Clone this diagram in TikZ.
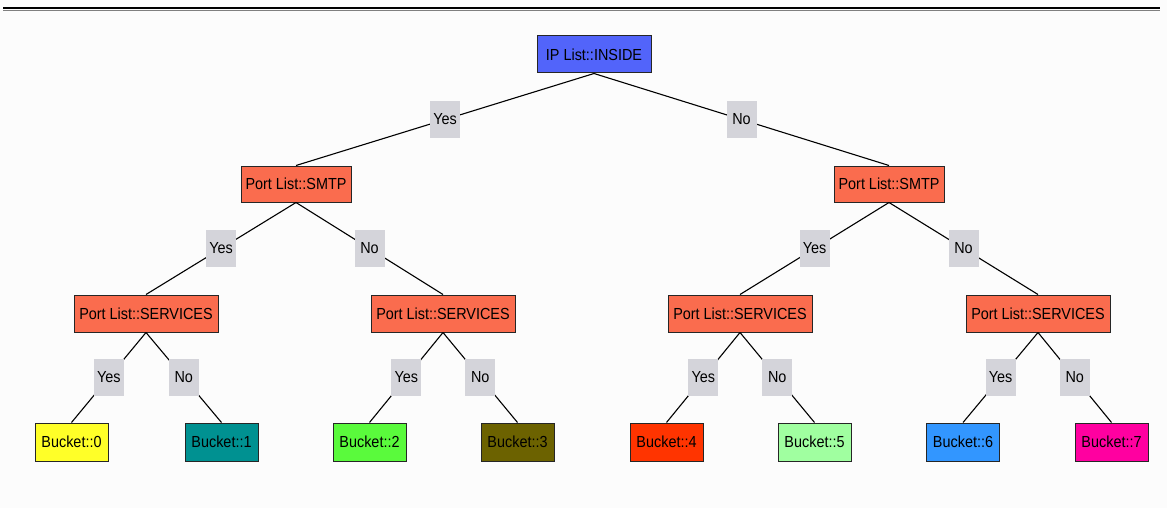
\documentclass[tikz,border=0pt]{standalone}
\usepackage{fontspec}
\setmainfont[FakeStretch=0.9]{Liberation Sans}
\definecolor{rootblue}{RGB}{82,100,250}
\definecolor{coral}{RGB}{250,108,78}
\definecolor{lblgray}{RGB}{212,212,218}
\definecolor{bzero}{RGB}{255,255,40}
\definecolor{bone}{RGB}{0,145,145}
\definecolor{btwo}{RGB}{90,250,60}
\definecolor{bthree}{RGB}{108,98,0}
\definecolor{bfour}{RGB}{255,52,0}
\definecolor{bfive}{RGB}{160,255,160}
\definecolor{bsix}{RGB}{50,150,255}
\definecolor{bseven}{RGB}{255,0,160}
\tikzset{
  tbox/.style={draw=black!85, line width=1pt, inner sep=0pt,
    font=\fontsize{16}{18}\selectfont, text=black},
  rootbox/.style={tbox, fill=rootblue, minimum width=114pt, minimum height=37pt},
  smtpbox/.style={tbox, fill=coral, minimum width=110pt, minimum height=36pt},
  svcbox/.style={tbox, fill=coral, minimum width=144pt, minimum height=37pt},
  bucketbox/.style={tbox, minimum width=73pt, minimum height=38pt},
  answer/.style={fill=lblgray, inner sep=0pt, minimum width=30pt,
    minimum height=37pt, font=\fontsize{16}{18}\selectfont},
  branch/.style={draw=black, line width=1.1pt},
}
\begin{document}
\begin{tikzpicture}[x=1pt, y=-1pt]
  \useasboundingbox (0,0) rectangle (1167,508);
  \fill[white!99!black] (0,0) rectangle (1167,508);
  % header rule
  \coordinate (ruleL) at (3,8.3);
  \coordinate (ruleR) at (1160,8.3);
  \coordinate (ruleL2) at (3,10.4);
  \coordinate (ruleR2) at (1160,10.4);
  \draw[line width=2pt, black] (ruleL) -- (ruleR);
  \draw[line width=1pt, black!50] (ruleL2) -- (ruleR2);

  % decision nodes
  \node[rootbox] (ip) at (594,54.5) {IP List::INSIDE};
  \node[smtpbox] (sL) at (296,184) {Port List::SMTP};
  \node[smtpbox] (sR) at (889,184) {Port List::SMTP};
  \node[svcbox] (v1) at (146,313.5) {Port List::SERVICES};
  \node[svcbox] (v2) at (443,313.5) {Port List::SERVICES};
  \node[svcbox] (v3) at (740,313.5) {Port List::SERVICES};
  \node[svcbox] (v4) at (1038,313.5) {Port List::SERVICES};

  % leaves
  \node[bucketbox, fill=bzero]  (b0) at (71.5,442)  {Bucket::0};
  \node[bucketbox, fill=bone]   (b1) at (221.5,442) {Bucket::1};
  \node[bucketbox, fill=btwo]   (b2) at (369.5,442) {Bucket::2};
  \node[bucketbox, fill=bthree] (b3) at (517.5,442) {Bucket::3};
  \node[bucketbox, fill=bfour]  (b4) at (666.5,442) {Bucket::4};
  \node[bucketbox, fill=bfive]  (b5) at (814.5,442) {Bucket::5};
  \node[bucketbox, fill=bsix]   (b6) at (963,442)   {Bucket::6};
  \node[bucketbox, fill=bseven] (b7) at (1111.5,442) {Bucket::7};

  % branches with their answers
  \draw[branch] (ip.south) -- node[answer] {Yes} (sL.north);
  \draw[branch] (ip.south) -- node[answer] {No} (sR.north);
  \draw[branch] (sL.south) -- node[answer] {Yes} (v1.north);
  \draw[branch] (sL.south) -- node[answer] {No} (v2.north);
  \draw[branch] (sR.south) -- node[answer] {Yes} (v3.north);
  \draw[branch] (sR.south) -- node[answer] {No} (v4.north);
  \draw[branch] (v1.south) -- node[answer] {Yes} (b0.north);
  \draw[branch] (v1.south) -- node[answer] {No} (b1.north);
  \draw[branch] (v2.south) -- node[answer] {Yes} (b2.north);
  \draw[branch] (v2.south) -- node[answer] {No} (b3.north);
  \draw[branch] (v3.south) -- node[answer] {Yes} (b4.north);
  \draw[branch] (v3.south) -- node[answer] {No} (b5.north);
  \draw[branch] (v4.south) -- node[answer] {Yes} (b6.north);
  \draw[branch] (v4.south) -- node[answer] {No} (b7.north);
\end{tikzpicture}
\end{document}
